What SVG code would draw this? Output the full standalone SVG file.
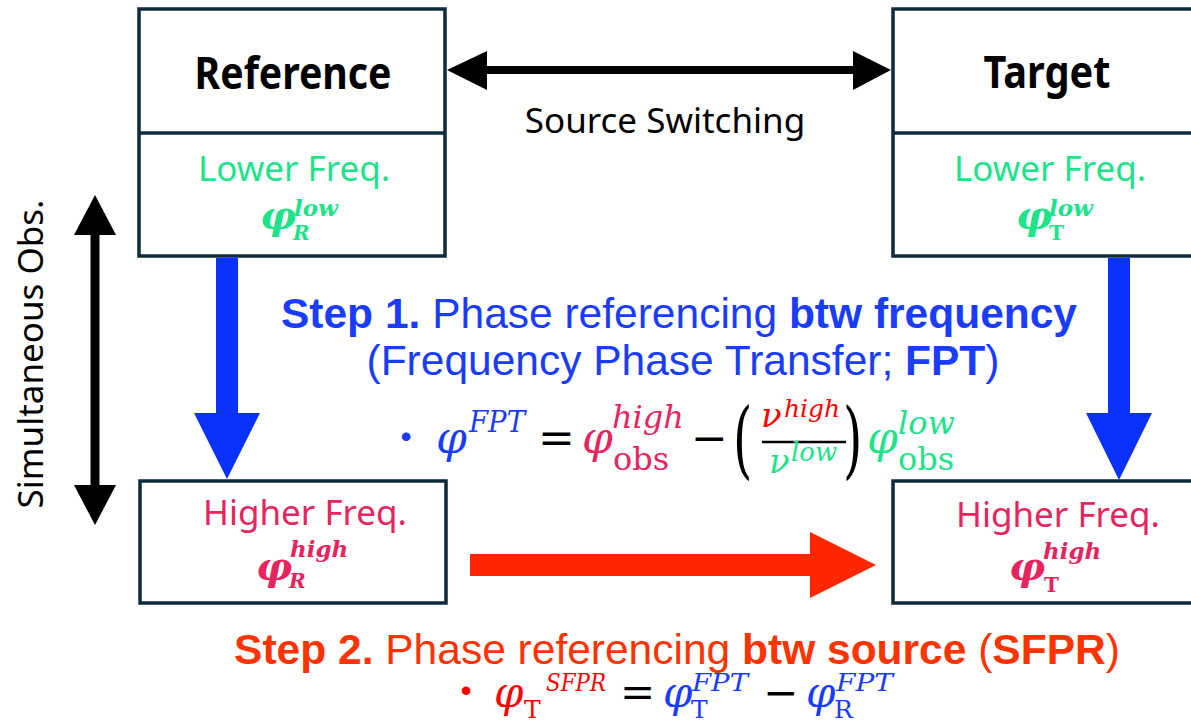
<svg xmlns="http://www.w3.org/2000/svg" width="1191" height="725" viewBox="0 0 1191 725">
<style>
.box{fill:#fff;stroke:#0f2a3a;stroke-width:3.5}
.div{stroke:#0f2a3a;stroke-width:3.5}
.title{font-family:"Noto Sans","Open Sans",sans-serif;font-weight:bold;font-size:44px;fill:#000;text-anchor:middle}
.lbl{font-family:"Noto Sans","Open Sans",sans-serif;font-size:35px;text-anchor:middle}
.green{fill:#1de38b}
.pink{fill:#e8245f}
.blue{fill:#1a3cff}
.red{fill:#ff0000}
.black{fill:#000}
.mb{font-family:"DejaVu Serif",serif;font-weight:bold;font-style:italic}
.mbu{font-family:"DejaVu Serif",serif;font-weight:bold}
.mi{font-family:"DejaVu Serif",serif;font-style:italic}
.mu{font-family:"DejaVu Serif",serif}
.step{font-family:"Liberation Sans",Arial,sans-serif;font-size:42.5px;text-anchor:middle}
</style>

<g id="connectors">
  <polygon points="447,70 487,51 487,66 853,66 853,51 891,70 853,90 853,74 487,74 487,90" fill="#000"/>
  <polygon points="95,195 116,235 99.5,235 99.5,485 116,485 95,525 74,485 90.5,485 90.5,235 74,235" fill="#000"/>
  <polygon points="216,258 238,258 238,413 260,413 227,479 194,413 216,413" fill="#0a32ff"/>
  <polygon points="1108,258 1130,258 1130,413 1152,413 1119,480 1086,413 1108,413" fill="#0a32ff"/>
  <polygon points="470,554 810,554 810,532 876,565 810,598 810,576 470,576" fill="#ff2600"/>
</g>

<g id="reference">
  <rect class="box" x="139" y="9" width="306" height="247"/>
  <line class="div" x1="139" y1="133" x2="445" y2="133"/>
  <text class="title" x="293" y="89" textLength="197" lengthAdjust="spacingAndGlyphs">Reference</text>
  <text class="lbl green" x="294" y="181">Lower Freq.</text>
  <text class="mb green" x="260" y="229" font-size="40">φ</text>
  <text class="mb green" x="294" y="216" font-size="23">low</text>
  <text class="mb green" x="293" y="240" font-size="20">R</text>
</g>

<g id="target">
  <rect class="box" x="893" y="9" width="306" height="247"/>
  <line class="div" x1="893" y1="133" x2="1199" y2="133"/>
  <text class="title" x="1047" y="88" textLength="127" lengthAdjust="spacingAndGlyphs">Target</text>
  <text class="lbl green" x="1050" y="181">Lower Freq.</text>
  <text class="mb green" x="1016" y="229" font-size="40">φ</text>
  <text class="mb green" x="1049" y="216" font-size="23">low</text>
  <text class="mbu green" x="1049" y="240" font-size="20">T</text>
</g>

<g id="reference-high">
  <rect class="box" x="140" y="481" width="306" height="122"/>
  <text class="lbl pink" x="305" y="525">Higher Freq.</text>
  <text class="mb pink" x="256" y="580" font-size="40">φ</text>
  <text class="mb pink" x="290" y="557" font-size="23">high</text>
  <text class="mb pink" x="289" y="588" font-size="20">R</text>
</g>

<g id="target-high">
  <rect class="box" x="893" y="481" width="306" height="122"/>
  <text class="lbl pink" x="1058" y="527">Higher Freq.</text>
  <text class="mb pink" x="1009" y="580" font-size="40">φ</text>
  <text class="mb pink" x="1043" y="559" font-size="23">high</text>
  <text class="mbu pink" x="1044" y="592" font-size="20">T</text>
</g>

<g id="labels">
  <text class="lbl black" x="665" y="133">Source Switching</text>
  <text class="lbl black" transform="translate(43,354) rotate(-90)">Simultaneous Obs.</text>

  <text class="step blue" x="679" y="328"><tspan font-weight="bold">Step 1.</tspan> Phase referencing <tspan font-weight="bold">btw frequency</tspan></text>
  <text class="step blue" x="683" y="375">(Frequency Phase Transfer; <tspan font-weight="bold">FPT</tspan>)</text>

  <text x="406" y="447" font-family="Liberation Sans,sans-serif" font-size="32" text-anchor="middle" class="blue">•</text>
  <text class="mi blue" x="436" y="453" font-size="44">φ</text>
  <text class="mi blue" x="469" y="432" font-size="30" textLength="56" lengthAdjust="spacingAndGlyphs">FPT</text>
  <text class="mu black" x="538" y="453" font-size="44">=</text>
  <text class="mi pink" x="582" y="453" font-size="44">φ</text>
  <text class="mi pink" x="612" y="428" font-size="32">high</text>
  <text class="mu pink" x="613" y="470" font-size="32">obs</text>
  <text class="mu black" x="691" y="453" font-size="44">−</text>
  <text class="mu black" transform="translate(733,468) scale(0.8,1.35)" font-size="62">(</text>
  <text class="mi red" x="761" y="427" font-size="34">ν</text>
  <text class="mi red" x="784" y="417" font-size="25">high</text>
  <line x1="762" y1="442" x2="846" y2="442" stroke="#000" stroke-width="2.5"/>
  <text class="mi green" x="769" y="473" font-size="34">ν</text>
  <text class="mi green" x="791" y="461" font-size="26">low</text>
  <text class="mu black" transform="translate(843,468) scale(0.8,1.35)" font-size="62">)</text>
  <text class="mi green" x="867" y="453" font-size="44">φ</text>
  <text class="mi green" x="898" y="434" font-size="32">low</text>
  <text class="mu green" x="898" y="470" font-size="32">obs</text>

  <text class="step" x="677" y="664" fill="#ff3300"><tspan font-weight="bold">Step 2.</tspan> Phase referencing <tspan font-weight="bold">btw source</tspan> (<tspan font-weight="bold">SFPR</tspan>)</text>

  <text x="466" y="701" font-family="Liberation Sans,sans-serif" font-size="32" text-anchor="middle" class="red">•</text>
  <text class="mi red" x="494" y="707" font-size="42">φ</text>
  <text class="mu red" x="524" y="718" font-size="25">T</text>
  <text class="mi red" x="546" y="691" font-size="25" textLength="60" lengthAdjust="spacingAndGlyphs">SFPR</text>
  <text class="mu black" x="620" y="707" font-size="42">=</text>
  <text class="mi blue" x="663" y="707" font-size="42">φ</text>
  <text class="mu blue" x="691" y="718" font-size="25">T</text>
  <text class="mi blue" x="692" y="691" font-size="25" textLength="56" lengthAdjust="spacingAndGlyphs">FPT</text>
  <text class="mu black" x="763" y="707" font-size="42">−</text>
  <text class="mi blue" x="806" y="707" font-size="42">φ</text>
  <text class="mu blue" x="834" y="718" font-size="25">R</text>
  <text class="mi blue" x="836" y="691" font-size="25" textLength="57" lengthAdjust="spacingAndGlyphs">FPT</text>
</g>
</svg>
